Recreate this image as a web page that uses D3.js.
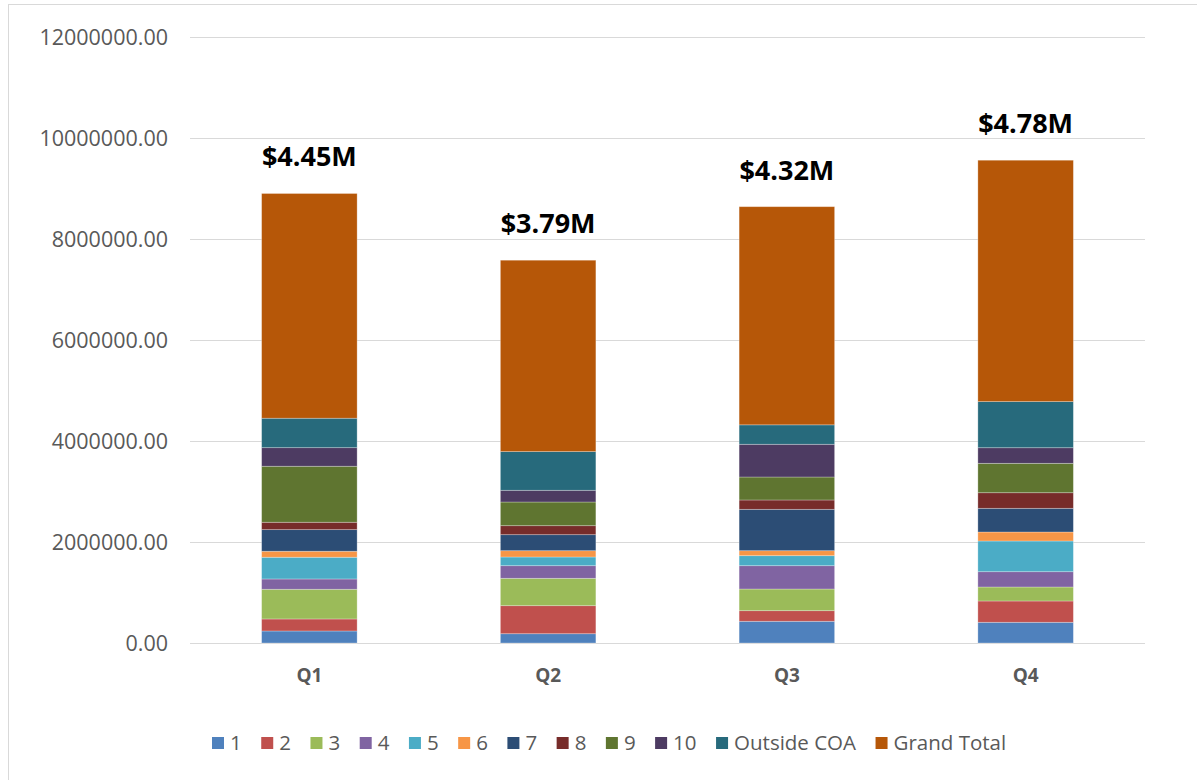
<!DOCTYPE html>
<html>
<head>
<meta charset="utf-8">
<script src="https://cdn.jsdelivr.net/npm/d3@7"></script>
<style>
html,body{margin:0;padding:0;background:#fff;}
svg{display:block;font-family:"Open Sans",sans-serif;}
</style>
</head>
<body>
<svg id="chart" width="1197" height="780"></svg>
<script>
const categories = ["Q1", "Q2", "Q3", "Q4"];
const seriesNames = ["1", "2", "3", "4", "5", "6", "7", "8", "9", "10", "Outside COA", "Grand Total"];
const s1  = [238000, 184000, 430000, 410000];
const s2  = [238000, 555000, 210000, 422000];
const s3  = [588000, 542000, 429000, 277000];
const s4  = [204000, 250000, 462000, 303000];
const s5  = [430000, 172000, 198000, 608000];
const s6  = [119000, 125000,  99000, 178000];
const s7  = [428000, 317000, 819000, 469000];
const s8  = [146000, 178000, 185000, 309000];
const s9  = [1109000, 469000, 455000, 582000];
const s10 = [368000, 232000, 648000, 309000];
const outsideCOA = [583000, 766000, 385000, 913000];
const grandTotal = [4450000, 3790000, 4320000, 4780000];
const yTicks = [0, 2000000, 4000000, 6000000, 8000000, 10000000, 12000000];
const colors = ["#4F81BD", "#C0504D", "#9BBB59", "#8064A2", "#4BACC6", "#F79646",
                "#2C4D75", "#772C2A", "#5F7530", "#4D3B62", "#276A7C", "#B65708"];

(function () {
const allSeries = [s1, s2, s3, s4, s5, s6, s7, s8, s9, s10, outsideCOA, grandTotal];
const table = categories.map((c, i) => {
  const row = {cat: c};
  seriesNames.forEach((n, k) => row[n] = allSeries[k][i]);
  return row;
});
const stacked = d3.stack().keys(seriesNames)(table);

const svg = d3.select("#chart");
svg.append("rect").attr("x", 8.5).attr("y", 4.5).attr("width", 1200).attr("height", 800)
  .attr("fill", "none").attr("stroke", "#d9d9d9").attr("stroke-width", 1);

const pLeft = 190, pRight = 1145, pTop = 37, pBottom = 643;
const x = d3.scaleBand().domain(categories).range([pLeft, pRight]).paddingInner(0.6).paddingOuter(0.3);
const y = d3.scaleLinear().domain([0, 12000000]).range([pBottom, pTop]);

svg.append("g").selectAll("line").data(yTicks).join("line")
  .attr("x1", pLeft).attr("x2", pRight)
  .attr("y1", d => Math.round(y(d)) + 0.5).attr("y2", d => Math.round(y(d)) + 0.5)
  .attr("stroke", "#d9d9d9").attr("stroke-width", 1);

const yAxis = d3.axisLeft(y).tickValues(yTicks).tickSize(0).tickPadding(0)
  .tickFormat(d => d3.format(".2f")(d));
const ya = svg.append("g").attr("transform", `translate(${168},0)`).call(yAxis);
ya.select(".domain").remove();
ya.selectAll("text").attr("font-family", "Open Sans").attr("font-size", 21.5)
  .attr("fill", "#595959").attr("dy", "0.35em");

svg.append("g").selectAll("g").data(stacked).join("g")
  .attr("fill", (d, i) => colors[i])
  .selectAll("rect").data(d => d).join("rect")
  .attr("x", d => x(d.data.cat))
  .attr("width", x.bandwidth())
  .attr("y", d => y(d[1]))
  .attr("height", d => y(d[0]) - y(d[1]))
  .attr("stroke", "rgba(255,255,255,0.35)").attr("stroke-width", 0.8);

const xAxis = d3.axisBottom(x).tickSize(0).tickPadding(0);
const xa = svg.append("g").attr("transform", `translate(0,${682})`).call(xAxis);
xa.select(".domain").remove();
xa.selectAll("text").attr("font-family", "Open Sans").attr("font-size", 19)
  .attr("font-weight", "bold").attr("fill", "#595959").attr("dy", 0);

const topStack = stacked[stacked.length - 1];
svg.append("g").selectAll("text").data(topStack).join("text")
  .attr("x", d => x(d.data.cat) + x.bandwidth() / 2)
  .attr("y", d => y(d[1]) - 27)
  .attr("text-anchor", "middle")
  .attr("font-family", "Open Sans").attr("font-weight", "bold").attr("font-size", 27)
  .attr("fill", "#000")
  .text((d, i) => "$" + (grandTotal[i] / 1e6).toFixed(2) + "M");

const lg = svg.append("g");
let cx = 0;
const gap = 19.5;
seriesNames.forEach((n, i) => {
  const g = lg.append("g");
  g.append("rect").attr("x", 0).attr("y", -6).attr("width", 12).attr("height", 12).attr("fill", colors[i]);
  const t = g.append("text").attr("x", 18).attr("y", 0).attr("dy", "0.35em")
    .attr("font-family", "Open Sans").attr("font-size", 20.5).attr("fill", "#595959").text(n);
  const w = 18 + t.node().getComputedTextLength();
  g.attr("transform", `translate(${cx},0)`);
  cx += w + gap;
});
lg.attr("transform", `translate(${212},${743})`);
})();
</script>
</body>
</html>
